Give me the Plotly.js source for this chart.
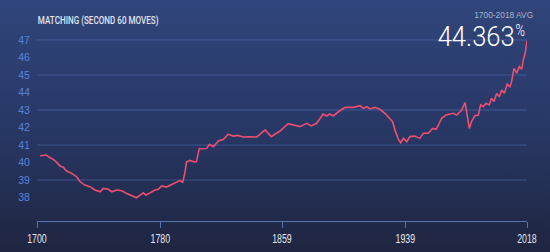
<!DOCTYPE html>
<html>
<head>
<meta charset="utf-8">
<script src="https://cdn.plot.ly/plotly-3.0.1.min.js"></script>
<style>
  html, body { margin: 0; padding: 0; }
  body { width: 550px; height: 252px; overflow: hidden;
         background: linear-gradient(to bottom, #30457b 0%, #283866 50%, #1f2540 100%); }
  #chart { width: 550px; height: 252px; }
</style>
</head>
<body>
<div id="chart"></div>
<script>
// Year and matching % (second 60 moves)
const years = [1702,1705,1706,1708,1710.6,1712.3,1715,1717,1719,1722.5,1725.7,1728,1731,1734.4,1737.6,1741,1743,1746.3,1748.5,1751.7,1755,1758,1761.5,1764.5,1767,1769,1770.7,1773,1776.6,1778.7,1780.9,1784,1788,1793,1794.5,1796,1797,1799,1802.5,1803.5,1805.3,1808,1810,1812,1814.5,1817.7,1821,1824,1827.4,1830,1834,1838,1842.6,1844.7,1848,1852,1857.7,1863,1867,1870.7,1875,1878,1881.5,1885.7,1888,1890,1892.3,1895.6,1899.9,1905.3,1909.6,1911.8,1914,1916,1919.3,1922.5,1925.8,1928,1930.8,1932.3,1934.5,1936,1937.8,1940,1942,1945,1948.5,1950.7,1954,1956.7,1959,1960.5,1962.6,1965.4,1967.6,1970,1972.4,1975.6,1977.8,1979.3,1980.6,1982,1984,1986.4,1987.9,1989.6,1991.4,1993.5,1995,1996.6,1998.3,2000,2001.6,2003.3,2005.2,2007,2008,2009.6,2011.3,2013,2014.6,2015.6,2016.8,2018];
const matching = [40.39,40.4,40.43,40.3,40.18,40.05,39.8,39.73,39.53,39.38,39.19,38.9,38.71,38.62,38.43,38.33,38.52,38.47,38.33,38.43,38.39,38.24,38.09,37.99,38.14,38.27,38.14,38.24,38.43,38.47,38.66,38.6,38.75,38.98,38.85,39.42,40.03,40.12,40.03,40.05,40.79,40.79,40.8,41.04,40.9,41.23,41.33,41.61,41.51,41.55,41.46,41.47,41.46,41.61,41.86,41.48,41.8,42.22,42.12,42.05,42.24,42.09,42.24,42.77,42.66,42.77,42.66,42.9,43.15,43.15,43.25,43.1,43.19,43.06,43.15,43.04,42.81,42.62,42.33,41.86,41.33,41.13,41.38,41.19,41.48,41.51,41.38,41.67,41.67,41.95,41.9,42.14,42.53,42.71,42.77,42.81,42.71,43.0,43.42,42.71,41.95,42.33,42.66,42.71,43.29,43.19,43.38,43.29,43.67,43.48,43.95,43.76,44.14,43.95,44.49,44.33,44.62,45.38,45.1,45.48,45.33,45.86,46.24,46.95];

const xTickVals = [1700, 1780, 1859, 1939, 2018];
const yTickVals = [38, 39, 40, 41, 42, 43, 44, 45, 46, 47];
const gridVals = [39, 41, 43, 45, 47];

const titleText = 'MATCHING (SECOND 60 MOVES)';
const avgLabel = '1700-2018 AVG';
const avgValue = '44.363';

const sans = "'Liberation Sans', Arial, sans-serif";

const shapes = gridVals.map(v => ({
  type: 'line', xref: 'paper', yref: 'y', x0: 0, x1: 1, y0: v, y1: v,
  line: { color: 'rgba(95,125,200,0.45)', width: 1 }, layer: 'below'
}));

const trace = {
  x: years, y: matching, type: 'scatter', mode: 'lines',
  line: { color: '#ec4f70', width: 1.6 }, hoverinfo: 'skip'
};

const layout = {
  width: 550, height: 252,
  margin: { l: 37, r: 23, t: 30, b: 31 },
  paper_bgcolor: 'rgba(0,0,0,0)', plot_bgcolor: 'rgba(0,0,0,0)',
  showlegend: false,
  shapes: shapes,
  xaxis: {
    range: [1700, 2018], tickvals: xTickVals, ticktext: xTickVals.map(String),
    showgrid: false, zeroline: false, showline: true, linecolor: '#5b73ad', linewidth: 1,
    ticks: 'outside', ticklen: 6, tickcolor: '#5b73ad', tickwidth: 1,
    tickfont: { family: sans, size: 12.5, color: '#e3e6ef' }
  },
  yaxis: {
    range: [36.66, 47.57], tickvals: yTickVals, ticktext: yTickVals.map(String),
    showgrid: false, zeroline: false, showline: false,
    ticks: 'outside', ticklen: 4, tickcolor: 'rgba(0,0,0,0)',
    tickfont: { family: sans, size: 10.5, color: '#5a84dc' }
  },
  annotations: [
    { text: titleText, xref: 'paper', yref: 'paper', x: 0.1235, y: 1.052,
      xanchor: 'center', yanchor: 'middle', showarrow: false,
      font: { family: "Roboto, " + sans, size: 11, weight: 500, color: '#e2e5ee' } },
    { text: avgLabel, xref: 'paper', yref: 'paper', x: 0.952, y: 1.076,
      xanchor: 'center', yanchor: 'middle', showarrow: false,
      font: { family: sans, size: 9, color: '#aab3ca' } },
    { text: avgValue, xref: 'paper', yref: 'paper', x: 0.8959, y: 0.966,
      xanchor: 'center', yanchor: 'middle', showarrow: false,
      font: { family: "Roboto, " + sans, size: 28, weight: 300, color: '#ffffff' } },
    { text: '%', xref: 'paper', yref: 'paper', x: 0.9867, y: 1.0,
      xanchor: 'center', yanchor: 'middle', showarrow: false,
      font: { family: "Roboto, " + sans, size: 17, weight: 300, color: '#ffffff' } }
  ]
};

// condensed look: squeeze the real text horizontally about its own centre
const annWidths = { 0: 121, 1: 59, 2: 77, 3: 9.5 };
Plotly.newPlot('chart', [trace], layout, { displayModeBar: false, staticPlot: true }).then(gd => {
  const squeeze = (t, w) => {
    const natural = t.getBBox().width;
    if (!natural) return;
    const s = w / natural;
    const cx = t.getBBox().x + natural / 2;
    const prev = t.getAttribute('transform') || '';
    t.setAttribute('transform', prev + ` translate(${cx},0) scale(${s},1) translate(${-cx},0)`);
  };
  gd.querySelectorAll('.annotation').forEach(g => {
    const idx = g.getAttribute('data-index');
    const t = g.querySelector('text.annotation-text');
    if (t && annWidths[idx] !== undefined) squeeze(t, annWidths[idx]);
  });
  gd.querySelectorAll('.xtick text').forEach(t => {
    t.setAttribute('textLength', 19.5); t.setAttribute('lengthAdjust', 'spacingAndGlyphs');
  });
});
</script>
</body>
</html>
